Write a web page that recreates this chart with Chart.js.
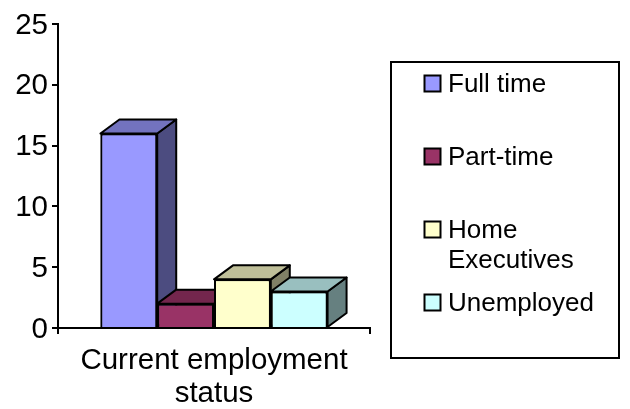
<!DOCTYPE html>
<html><head><meta charset="utf-8">
<style>html,body{margin:0;padding:0;background:#fff}#w{width:630px;height:409px;position:relative}</style>
<script src="https://cdn.jsdelivr.net/npm/chart.js@4"></script>
</head><body><div id="w"><canvas id="c" width="630" height="409"></canvas></div>
<script>
const categories = [["Current employment", "status"]];
const seriesNames = ["Full time", "Part-time", ["Home", "Executives"], "Unemployed"];
const seriesValues = [[16], [2], [4], [3]];
const frontColors = ["#9999FF", "#993366", "#FFFFCC", "#CCFFFF"];
const topColors = ["#7373BF", "#73264D", "#BFBF99", "#99BFBF"];
const sideColors = ["#4C4C80", "#4D1A33", "#808066", "#668080"];
const yTicks = [0, 5, 10, 15, 20, 25];
const FONT = '"Liberation Sans", Arial, sans-serif';

const depth3d = {
  id: 'depth3d',
  afterDatasetsDraw(chart) {
    const ctx = chart.ctx, dx = 19, dy = 14;
    ctx.save();
    ctx.lineWidth = 2; ctx.strokeStyle = '#000'; ctx.lineJoin = 'round';
    chart.data.datasets.forEach((ds, i) => {
      const el = chart.getDatasetMeta(i).data[0];
      const { x, y, base, width } = el.getProps(['x', 'y', 'base', 'width'], true);
      const l = x - width / 2, r = x + width / 2;
      const poly = (pts, fill) => {
        ctx.beginPath();
        pts.forEach((p, k) => k ? ctx.lineTo(p[0], p[1]) : ctx.moveTo(p[0], p[1]));
        ctx.closePath(); ctx.fillStyle = fill; ctx.fill(); ctx.stroke();
      };
      poly([[r, y], [r + dx, y - dy], [r + dx, base - dy], [r, base]], sideColors[i]);
      poly([[l, y], [l + dx, y - dy], [r + dx, y - dy], [r, y]], topColors[i]);
      el.draw(ctx);
    });
    ctx.restore();
  }
};

const boxLegend = {
  id: 'boxLegend',
  afterDraw(chart) {
    const ctx = chart.ctx;
    const rowsY = [84, 157, 230, 303];
    ctx.save();
    ctx.lineWidth = 2; ctx.strokeStyle = '#000';
    ctx.strokeRect(391, 62, 228, 296);
    ctx.font = '26px ' + FONT; ctx.textBaseline = 'middle'; ctx.textAlign = 'left';
    seriesNames.forEach((name, i) => {
      ctx.fillStyle = frontColors[i];
      ctx.fillRect(424.5, rowsY[i] - 8.5, 16, 16);
      ctx.strokeRect(424.5, rowsY[i] - 8.5, 16, 16);
      ctx.fillStyle = '#000';
      [].concat(name).forEach((line, k) => ctx.fillText(line, 448, rowsY[i] + 1 + k * 30));
    });
    ctx.restore();
  }
};

new Chart(document.getElementById('c'), {
  type: 'bar',
  data: {
    labels: categories,
    datasets: seriesNames.map((n, i) => ({
      label: Array.isArray(n) ? n.join(' ') : n,
      data: seriesValues[i],
      backgroundColor: frontColors[i],
      borderColor: '#000',
      borderWidth: 2,
      barPercentage: 1,
      categoryPercentage: 0.728
    }))
  },
  options: {
    responsive: false, animation: false,
    layout: { padding: { top: 24, right: 260, left: 0, bottom: 0 } },
    plugins: { legend: { display: false }, title: { display: false }, tooltip: { enabled: false } },
    scales: {
      x: {
        afterFit(s) { s.height = 81; },
        grid: { drawOnChartArea: false, color: '#000', lineWidth: 2, tickLength: 6, offset: true },
        border: { color: '#000', width: 2 },
        ticks: { color: '#000', font: { family: FONT, size: 29.5, lineHeight: 1.12 }, maxRotation: 0, padding: 10 }
      },
      y: {
        min: 0, max: 25,
        afterFit(s) { s.width = 58; },
        afterBuildTicks(s) { s.ticks = yTicks.map(v => ({ value: v })); },
        grid: { drawOnChartArea: false, color: '#000', lineWidth: 2, tickLength: 6 },
        border: { color: '#000', width: 2 },
        ticks: { color: '#000', font: { family: FONT, size: 29.5 }, padding: 4, labelOffset: 1.5 }
      }
    }
  },
  plugins: [depth3d, boxLegend]
});
</script></body></html>
